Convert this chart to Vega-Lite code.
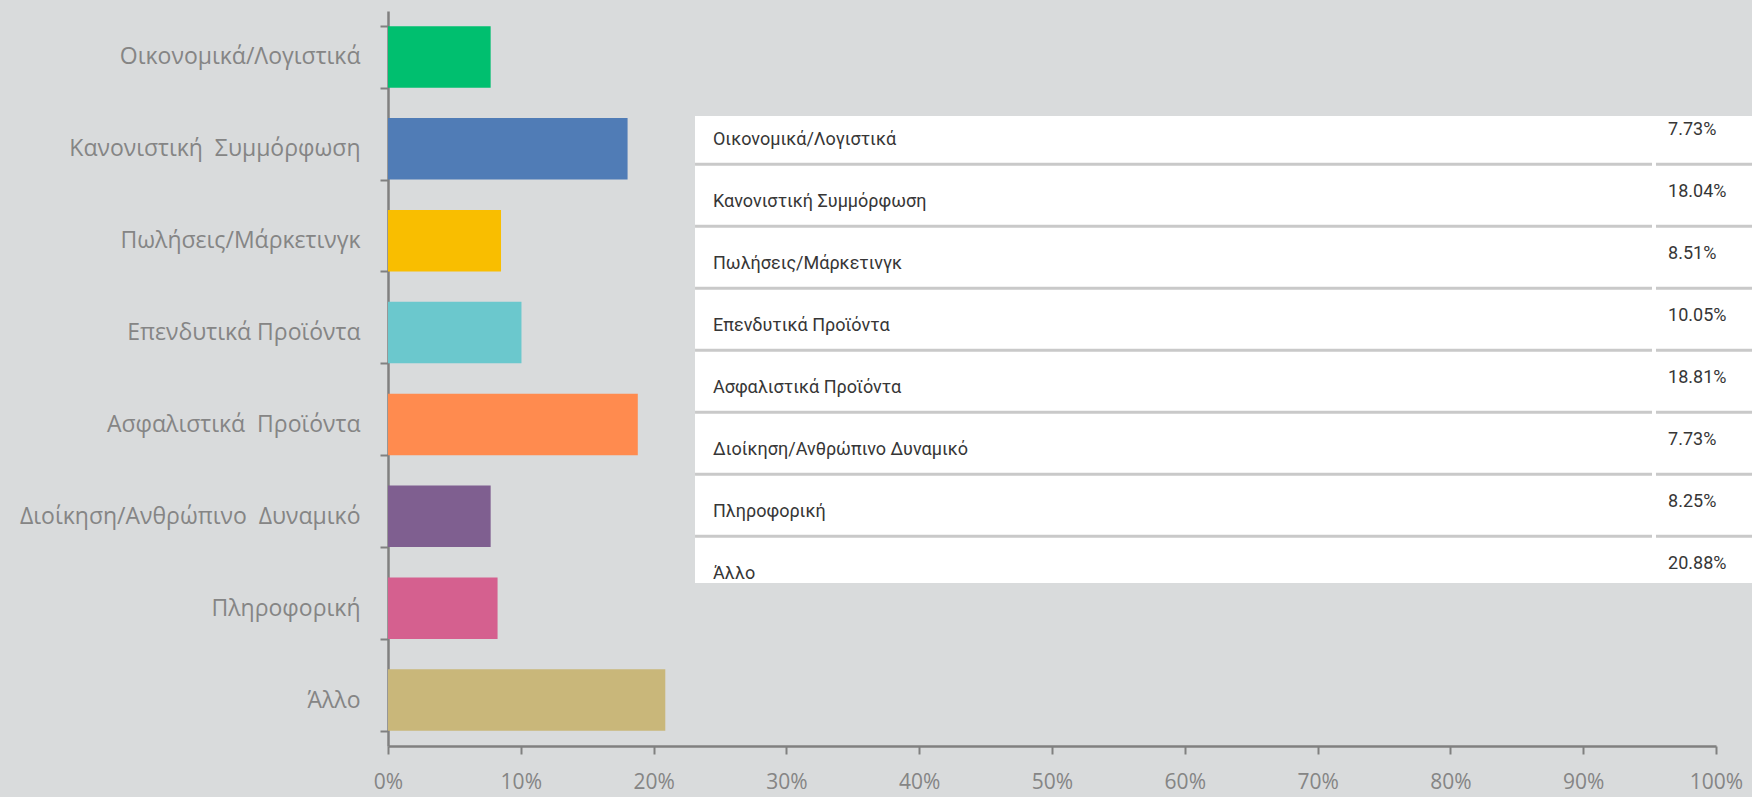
{
  "$schema": "https://vega.github.io/schema/vega-lite/v6.json",
  "autosize": {"type": "none"},
  "width": 1328,
  "height": 735,
  "padding": {"left": 388, "top": 11, "right": 36, "bottom": 51},
  "background": "#d9dbdc",
  "config": {"view": {"stroke": null}},
  "data": {"values": [
    {"cat": "Οικονομικά/Λογιστικά", "pct": 0.0773},
    {"cat": "Κανονιστική Συμμόρφωση", "pct": 0.1804},
    {"cat": "Πωλήσεις/Μάρκετινγκ", "pct": 0.0851},
    {"cat": "Επενδυτικά Προϊόντα", "pct": 0.1005},
    {"cat": "Ασφαλιστικά Προϊόντα", "pct": 0.1881},
    {"cat": "Διοίκηση/Ανθρώπινο Δυναμικό", "pct": 0.0773},
    {"cat": "Πληροφορική", "pct": 0.0825},
    {"cat": "Άλλο", "pct": 0.2088}
  ]},
  "layer": [
    {
      "mark": {"type": "bar"},
      "encoding": {
        "y": {"field": "cat", "type": "nominal", "sort": null,
          "scale": {"paddingInner": 0.33, "paddingOuter": 0.165},
          "axis": {"title": null, "tickBand": "extent", "tickSize": 8, "tickWidth": 2, "tickColor": "#808080",
            "domainColor": "#808080", "domainWidth": 2.5, "labelFont": "Open Sans", "labelFontSize": 23,
            "labelColor": "#858585", "labelPadding": 20, "labelLimit": 500,
            "labelExpr": "datum.label == 'Επενδυτικά Προϊόντα' ? datum.label : replace(datum.label, ' ', '\u00a0 ')"}},
        "x": {"field": "pct", "type": "quantitative",
          "scale": {"domain": [0, 1], "nice": false},
          "axis": {"title": null, "format": ".0%", "values": [0, 0.1, 0.2, 0.3, 0.4, 0.5, 0.6, 0.7, 0.8, 0.9, 1],
            "grid": false, "tickSize": 8, "tickWidth": 2, "tickColor": "#808080", "domainColor": "#808080",
            "domainWidth": 2.5, "labelFont": "Open Sans", "labelFontSize": 21, "labelColor": "#858585",
            "labelPadding": 17, "labelFlush": false, "labelOverlap": false}},
        "color": {"field": "cat", "type": "nominal", "sort": null, "legend": null,
          "scale": {"range": ["#00BF6F", "#507CB6", "#F9BE00", "#6BC8CD", "#FF8B4F", "#7F5F90", "#D5608F", "#C9B77A"]}}
      }
    },
    {
      "transform": [{"window": [{"op": "row_number", "as": "r"}]}],
      "layer": [
        {
          "mark": {"type": "rect", "color": "white", "clip": false},
          "encoding": {
            "y": {"datum": 0.721, "type": "quantitative",
              "scale": {"domain": [-0.973, 10.882], "reverse": true, "nice": false, "zero": false}, "axis": null},
            "y2": {"datum": 8.253},
            "x": {"datum": 0.2312, "type": "quantitative"},
            "x2": {"datum": 1.0271}
          }
        },
        {
          "transform": [{"filter": "datum.r < 8"}],
          "mark": {"type": "rule", "color": "#c9c9c9", "strokeWidth": 3, "yOffset": 31},
          "encoding": {
            "y": {"field": "r", "type": "quantitative"},
            "x": {"datum": 0.2312, "type": "quantitative"},
            "x2": {"datum": 0.9518}
          }
        },
        {
          "transform": [{"filter": "datum.r < 8"}],
          "mark": {"type": "rule", "color": "#c9c9c9", "strokeWidth": 3, "yOffset": 31},
          "encoding": {
            "y": {"field": "r", "type": "quantitative"},
            "x": {"datum": 0.9548, "type": "quantitative"},
            "x2": {"datum": 1.0271}
          }
        },
        {
          "mark": {"type": "text", "align": "left", "baseline": "middle", "dy": 7, "font": "Roboto", "fontSize": 18, "color": "#363636"},
          "encoding": {
            "y": {"field": "r", "type": "quantitative"},
            "x": {"datum": 0.2447, "type": "quantitative"},
            "text": {"field": "cat"}
          }
        },
        {
          "mark": {"type": "text", "align": "left", "baseline": "middle", "dy": -3, "font": "Roboto", "fontSize": 18, "color": "#363636"},
          "encoding": {
            "y": {"field": "r", "type": "quantitative"},
            "x": {"datum": 0.9639, "type": "quantitative"},
            "text": {"field": "pct", "format": ".2%"}
          }
        }
      ]
    }
  ],
  "resolve": {"scale": {"y": "independent", "color": "independent"}, "axis": {"y": "independent"}}
}
